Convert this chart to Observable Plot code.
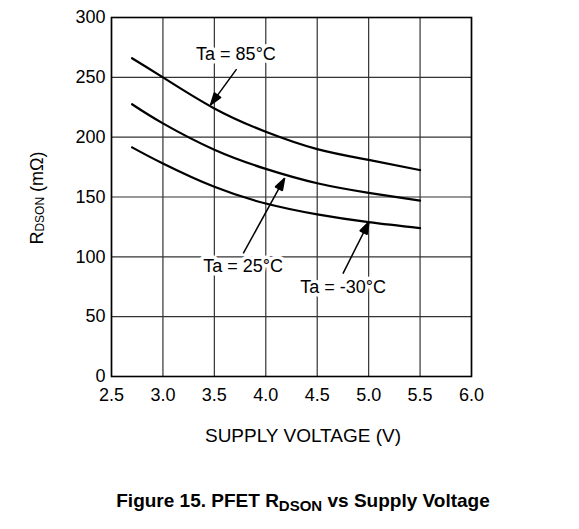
<!DOCTYPE html>
<html>
<head>
<meta charset="utf-8">
<script src="https://cdn.jsdelivr.net/npm/d3@7"></script>
<script src="https://cdn.jsdelivr.net/npm/@observablehq/plot@0.6"></script>
<style>
  html, body { margin: 0; padding: 0; background: #fff; }
  #wrap { position: relative; width: 579px; height: 529px; font-family: "Liberation Sans", Arial, sans-serif; }
  #title { position: absolute; left: 0; width: 606px; top: 491px; text-align: center;
           font: bold 19px "Liberation Sans", Arial, sans-serif; line-height: 20px; color: #000; }
  #title sub { font-size: 15px; vertical-align: -4px; line-height: 0; }
</style>
</head>
<body>
<div id="wrap"><div id="chart"></div><div id="title">Figure 15. PFET R<sub>DSON</sub> vs Supply Voltage</div></div>
<script>
// Supply voltage (V)
const voltage = [2.7, 3.0, 3.5, 4.0, 4.5, 5.0, 5.5];
// RDSON (mΩ) per ambient temperature
const r85 = [266, 250, 224, 204.5, 190, 181, 172.5];
const r25 = [227.5, 211.5, 189.5, 173.5, 161.5, 153.5, 147];
const rm30 = [191.5, 178, 158.5, 144.6, 135.5, 129, 124];

const xTicks = [2.5, 3.0, 3.5, 4.0, 4.5, 5.0, 5.5, 6.0];
const yTicks = [0, 50, 100, 150, 200, 250, 300];

// annotation labels and arrows
const labelText = ["Ta = 85°C", "Ta = 25°C", "Ta = -30°C"];
const labelX = [3.71, 3.779, 4.752];
const labelY = [269, 91.9, 74.5];
const arrowX1 = [3.716, 3.781, 4.75];
const arrowY1 = [256.9, 102.8, 86];
const arrowX2 = [3.463, 4.183, 5.003];
const arrowY2 = [227, 165.7, 129.2];

const series = [
  {name: "85", values: r85},
  {name: "25", values: r25},
  {name: "-30", values: rm30}
];
const lineData = series.flatMap(s => s.values.map((v, i) => ({series: s.name, x: voltage[i], y: v})));
const labels = labelText.map((t, i) => ({text: t, x: labelX[i], y: labelY[i]}));
const arrows = arrowX1.map((_, i) => ({x1: arrowX1[i], y1: arrowY1[i], x2: arrowX2[i], y2: arrowY2[i]}));

const FONT = '"Liberation Sans", Arial, sans-serif';

function arrowHeads(index, scales, values, dimensions, context, next) {
  const g = next(index, scales, values, dimensions, context);
  const ns = "http://www.w3.org/2000/svg";
  for (const i of index) {
    const x1 = values.x1[i], y1 = values.y1[i], x2 = values.x2[i], y2 = values.y2[i];
    const a = Math.atan2(y2 - y1, x2 - x1);
    const L = 12, W = 4;
    const bx = x2 - L * Math.cos(a), by = y2 - L * Math.sin(a);
    const px = -Math.sin(a) * W, py = Math.cos(a) * W;
    const poly = document.createElementNS(ns, "polygon");
    poly.setAttribute("points", `${x2},${y2} ${bx + px},${by + py} ${bx - px},${by - py}`);
    poly.setAttribute("fill", "black");
    g.appendChild(poly);
  }
  return g;
}

const plot = Plot.plot({
  width: 579,
  height: 450,
  marginLeft: 111,
  marginRight: 108,
  marginTop: 17,
  marginBottom: 74,
  style: {fontFamily: FONT, fontSize: "18px", color: "#000", background: "#fff"},
  x: {domain: [2.5, 6.0], ticks: xTicks, tickFormat: d3.format(".1f")},
  y: {domain: [0, 300], ticks: yTicks},
  marks: [
    Plot.gridX(xTicks, {stroke: "#333", strokeOpacity: 1, strokeWidth: 1.2}),
    Plot.gridY(yTicks, {stroke: "#333", strokeOpacity: 1, strokeWidth: 1.2}),
    Plot.frame({stroke: "#000", strokeWidth: 1.6}),
    Plot.axisX(xTicks, {tickSize: 0, tickPadding: 12, fontSize: 18, tickFormat: d3.format(".1f"), label: null}),
    Plot.axisY(yTicks, {tickSize: 0, tickPadding: 6, fontSize: 18, label: null}),
    Plot.line(lineData, {x: "x", y: "y", z: "series", stroke: "#000", strokeWidth: 2.2, curve: "natural"}),
    Plot.text(labels, {x: "x", y: "y", text: "text", fontSize: 18, fill: "#000",
      stroke: "#fff", strokeWidth: 7, paintOrder: "stroke", textAnchor: "middle"}),
    Plot.link(arrows, {x1: "x1", y1: "y1", x2: "x2", y2: "y2", stroke: "#000", strokeWidth: 1.5, render: arrowHeads})
  ]
});

const svg = d3.select(plot);
// x-axis title
svg.append("text")
  .attr("x", 303).attr("y", 442)
  .attr("text-anchor", "middle")
  .attr("font-family", FONT)
  .attr("font-size", 19)
  .attr("fill", "#000")
  .text("SUPPLY VOLTAGE (V)");
// y-axis title with subscript
const yl = svg.append("text")
  .attr("transform", "translate(43,198) rotate(-90)")
  .attr("text-anchor", "middle")
  .attr("font-family", FONT)
  .attr("font-size", 18)
  .attr("fill", "#000");
yl.append("tspan").text("R");
yl.append("tspan").attr("font-size", 12).attr("dy", 1).text("DSON");
yl.append("tspan").attr("dy", -1).text(" (mΩ)");

document.getElementById("chart").appendChild(plot);
</script>
</body>
</html>
